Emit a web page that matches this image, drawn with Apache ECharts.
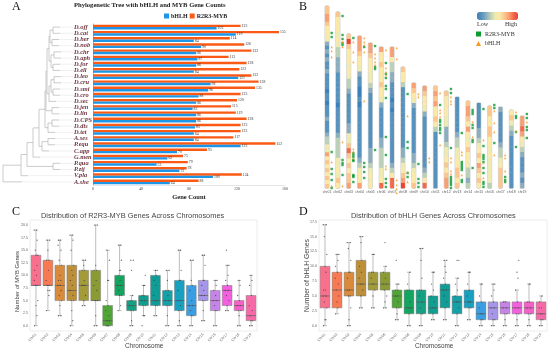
<!DOCTYPE html>
<html><head><meta charset="utf-8">
<style>html,body{margin:0;padding:0;background:#fff}#c{width:550px;height:350px}</style>
<script src="https://cdn.jsdelivr.net/npm/echarts@6/dist/echarts.min.js"></script>
</head><body><div id="c"></div>
<script>
// ---------- Panel A ----------
const species = ['D.off','D.cat','D.her','D.nob','D.chr','D.aph','D.for','D.ell','D.leo','D.cru','D.smi','D.cro','D.sec','D.jen','D.lin','D.CPS','D.dis','D.tet','A.ses','P.equ','C.app','G.men','P.qua','P.zij','V.pla','A.she'];
const mybCounts  = [123,155,114,126,132,113,128,122,132,138,135,123,120,115,119,128,123,123,117,152,95,75,79,78,124,88];
const bhlhCounts = [103,119,84,90,86,87,86,84,121,98,96,88,86,83,86,86,85,84,84,123,70,62,53,72,100,64];
const geneTicks = [0,40,80,120,160];
// tree nodes: [branch position, first row, last row, parent branch position]
const treeNodes = [[53,0,1,50],[52,2,3,50],[50,.5,2.5,49],[54,4,5,51],[53,6,7,51],[51,4.5,6.5,49],[49,1.5,5.5,47],[54,8,9,51],[53,10,11,51],[51,8.5,10.5,49],[49,9.5,12,47],[47,3.5,10.75,46],[52,13,14,46],[46,7.125,13.5,45],[52,15,16,48],[48,15.5,17,45],[45,10.3,16.25,39],[48,18,19,42],[42,18.5,20,39],[39,13.3,19.25,33],[33,16.3,21,27],[53,22,23,27],[27,18.65,22.5,21],[21,20.6,24,3],[3,22.3,25,3]];
const treeTipStart = [53,53,52,52,54,54,53,53,54,54,53,53,49,52,52,52,52,48,48,48,42,33,53,53,21,3];

// ---------- Panel B ----------
const chrNames = ['chr01','chr02','chr03','chr04','chr05','chr06','chr07','chr08','chr09','chr10','chr11','chr12','chr13','chr14','chr15','chr16','chr17','chr18','chr19'];
const chrStart = [6,12,34,36,43,47,47,67,83,86,86,91,97,101,103,106,107,110,116];
const chrEnd = 188;
const chr01 = [6,6,7,7,6,5,5,5,4,2,1,2,1,2,1,1,2,1,1,1,1,0,1,1,0,1,1,1,2,1,1,1,2,3,3,4,4,7,5,6,5,6,5,6,5,6];
const chr02 = [6,5,5,5,4,5,4,3,3,2,2,2,1,1,1,1,1,1,0,1,1,1,1,1,2,3,3,3,3,4,4,5,4,6,5];
const chr03 = [6,9,6,5,5,5,4,5,4,3,3,2,1,1,1,1,1,1,2,2,4,4,6,8,6,5,6,5,6,6,7];
const chr04 = [7,7,7,6,5,5,4,2,1,1,0,0,1,0,1,1,1,1,1,1,1,1,1,1,2,3,4,5,5,7];
const chr05 = [7,7,6,5,5,5,4,4,3,2,1,1,1,1,1,1,1,1,1,1,1,2,2,2,3,4,5,4,5];
const chr06 = [7,5,5,6,5,5,5,6,5,5,4,2,1,1,1,1,1,1,2,2,3,3,3,3,4,4,5,8];
const chr07 = [7,7,5,3,3,2,2,1,1,1,0,1,0,1,1,1,1,1,1,1,1,1,1,2,3,5,8,8];
const chr08 = [6,5,5,3,1,1,1,1,1,1,1,1,1,1,1,1,2,2,3,4,5,6,7,9];
const chr09 = [7,6,5,4,2,1,1,1,1,1,1,1,1,1,2,2,3,4,5,5,6];
const chr10 = [7,6,5,5,4,2,1,1,1,1,1,1,1,1,1,1,2,3,5,8];
const chr11 = [6,7,6,7,5,5,6,5,3,1,1,1,1,1,1,1,1,1,1,1];
const chr12 = [6,5,5,5,5,4,4,2,2,2,3,4,4,5,6,5,6,7,7];
const chr13 = [1,1,1,1,1,1,1,2,3,3,4,4,5,5,6,6,5,6];
const chr14 = [6,7,7,6,5,7,5,4,5,6,5,5,4,3,3,2,3];
const chr15 = [1,1,1,1,1,2,2,3,4,5,6,5,7,6,5,6,5];
const chr16 = [6,6,5,5,6,6,5,5,4,5,4,4,4,4,4,3];
const chr17 = [2,1,1,1,1,1,1,2,3,3,4,5,6,6,6,6];
const chr18 = [5,6,4,3,2,1,1,1,1,1,1,1,1,1,1];
const chr19 = [7,7,8,7,5,4,3,2,1,1,1,2,1,2];
const chrBins = [chr01,chr02,chr03,chr04,chr05,chr06,chr07,chr08,chr09,chr10,chr11,chr12,chr13,chr14,chr15,chr16,chr17,chr18,chr19];
const mybSites = [[33,37,152,169,174,180,188],[16,35,39,43,45,160,163,165,175],[38,153,155,157,160,161,175,176,177,182],[47,163,167,172,178],[46,67,69,150],[63,74,78,86,89,98,137,155,179,183,187],[],[94,142,148,173,177],[164,179,183,187],[],[105,120,122,125,128,130,133],[89,93,148,177,179,181,183,185,188],[133,162,164,166,168,170,180,182],[110,112,114,125,128,140,142,168],[109,146,155,157,159,162,168,173,182,184,187],[105,108,143],[177,180,182],[116,118,132,147],[114,118,127,130,138]];
const bhlhSites = [[47,51,57,162,186],[42,47,142,186],[42,52,62,149,152,158],[38,42,45,52,101],[54,58,62,65],[50,68,72,75,166,169],[48,59,180,185,189,193],[116,172,182],[94,97],[158,162],[93,110,113,117,145],[97,101,104,158,162,171,174],[152,155,175],[122,137],[140,163,178],[111,123,132,155],[155,158,171],[112,131],[122]];

// ---------- Panels C and D ----------
const chromLabels = ['Chr01','Chr02','Chr03','Chr04','Chr05','Chr06','Chr07','Chr08','Chr09','Chr10','Chr11','Chr12','Chr13','Chr14','Chr15','Chr16','Chr17','Chr18','Chr19'];
const boxColors = ['#f8708c','#f77a52','#d98a3a','#bd8f38','#a39a3a','#8a9b33','#4fa535','#12a55f','#14a183','#0f9e8f','#109d98','#13a0a6','#18a0c0','#3a9fe2','#a596ea','#c684e8','#f45fe0','#f560c8','#f66aa8'];
const mybLow  = [0,3,2,0,4,0,0,3,0,2,2,0,0,0,1,0,3,0,0];
const mybQ1   = [8,8,5,5,5,5,0,6,3,4,4,4,3,2,5,3,4,3,1];
const mybMed  = [8,8,8,7,8,5,1,8,4,5,5,5,5,4,6,5,7,4,2];
const mybQ3   = [14,13,12,12,11,11,4,10,5,6,10,7,9,8,9,7,8,5,6];
const mybHigh = [19,17,17,18,13,20,15,16,6,8,11,11,15,13,14,9,12,9,10];
const bhlhLow  = [0,2,0,3,3,3,1,0,0,1,1,0,1,0,0,0,0,0,0];
const bhlhQ1   = [3,3,5,5,6,6,3,2,2,2,3,2,3,1,1,2,2,2,1];
const bhlhMed  = [5,6,6,7,7,7,5,3,4,3,6,4,4,2,3,3,3,3,2];
const bhlhQ3   = [10,9,9,11,9,9,6,6,6,5,7,5,6,4,4,4,4,4,4];
const bhlhHigh = [17,12,14,15,12,10,7,9,13,9,11,8,9,7,7,4,6,7,5];
const mybPoints = [[0,2,4,5,8,8,9,10,11,12,14,14,15,17,19,19],[3,6,7,7,8,8,9,11,13,13,15,17,17],[2,2,4,5,6,7,8,8,9,9,10,12,13,15,16,17,17],[0,1,3,5,5,6,7,8,9,10,11,12,15,17,18,18],[4,4,5,6,8,8,8,9,11,11,12,13,13],[0,0,2,5,5,7,8,9,11,11,12,20,20],[0,0,0,1,1,2,3,4,5,9,9,13,15],[3,4,6,6,7,8,8,9,10,11,11,13,16,16],[0,0,1,3,3,4,4,5,5,6,11,13,13],[0,2,2,4,4,5,5,6,6,8,8,10],[2,2,4,4,5,5,6,8,9,10,11,11],[0,0,2,4,4,5,5,6,7,7,9,11,11],[0,0,1,3,3,4,5,5,7,9,9,11,15,15],[0,0,2,2,3,4,4,5,7,8,9,13,13],[1,1,3,5,5,6,6,7,8,9,9,12,14,14],[0,0,3,3,4,5,5,6,7,8,9,9],[3,3,4,5,6,7,7,8,9,10,12,12,15],[0,0,2,3,3,4,4,5,6,8,9],[0,0,1,1,2,3,4,6,8,9,10]];
const bhlhPoints = [[0,1,1,3,4,5,5,6,6,9,10,12,15,17,17],[2,3,4,5,6,7,8,9,10,11,12,12],[0,0,1,3,5,5,6,6,8,9,9,11,13,14,14],[3,3,5,6,7,7,8,9,10,11,14,15,15],[3,3,5,6,7,7,8,9,9,12,12],[3,3,4,5,6,7,7,8,9,10,14],[1,1,2,3,3,4,5,5,6,6,7,7,11],[0,0,2,3,3,4,6,6,7,9],[0,0,2,2,3,4,5,6,6,8,11,13,13],[1,1,2,3,3,4,5,6,7,9,9],[1,1,3,4,5,6,6,7,8,9,10,11,11],[0,0,2,3,4,4,5,6,7,8,11,11],[1,1,3,3,4,4,5,6,7,9,9],[0,0,1,1,2,2,3,4,5,7,7],[0,0,1,1,2,3,3,4,5,6,7,7],[0,0,1,2,2,3,3,4,4],[0,0,1,2,2,3,3,4,6,8,9,11],[0,0,1,2,2,3,3,4,4,7,7],[0,0,1,1,2,2,3,3,4,5]];
const mybTicks = [0,2.5,5,7.5,10,12.5,15,17.5,20];
const bhlhTicks = [0,2.5,5,7.5,10,12.5,15,17.5];
const dotSpread = [-0.12,0.08,0,0.15,-0.06,0.1,-0.15,0.04];

const SERIF = '"Liberation Serif","DejaVu Serif",serif';
const SANS = '"Liberation Sans",Arial,sans-serif';

// --- derived series data ---
const treeInner = [], treeTips = [];
treeNodes.forEach(([x,a,b,px]) => {
  treeInner.push([x,a],[x,b],['-','-'],[px,(a+b)/2],[x,(a+b)/2],['-','-']);
});
treeTipStart.forEach((x,r) => {
  const dark = r === 25 ? 19 : 7;
  treeInner.push([x,r],[x+dark,r],['-','-']);
  treeTips.push([x+dark,r],[74,r],['-','-']);
});
const binData = [];
chrBins.forEach((bins,c) => {
  const h = (chrEnd - chrStart[c]) / bins.length;
  bins.forEach((v,i) => binData.push([c+1, chrStart[c]+i*h, chrStart[c]+(i+1)*h, v]));
});
const outlineData = chrStart.map((s,c) => [c+1, s, chrEnd]);
const sites = (list) => list.flatMap((ys,c) => ys.map(y => [c+1.43, y]));
const boxData = (lo,q1,md,q3,hi) => lo.map((_,i) => [i,lo[i],q1[i],md[i],q3[i],hi[i]]);
const dotData = (pts) => pts.flatMap((vals,c) => vals.map((v,i) => [c+dotSpread[i%dotSpread.length], v]));

const renderBox = (params, api) => {
  const i = api.value(0);
  const w = api.size([1,0])[0]*0.82;
  const xc = api.coord([i,0])[0];
  const yOf = (d) => api.coord([i,api.value(d)])[1];
  const wh = {stroke:'#bdbdbd',lineWidth:1};
  return {type:'group',children:[
    {type:'line',shape:{x1:xc,y1:yOf(1),x2:xc,y2:yOf(5)},style:wh},
    {type:'line',shape:{x1:xc-2,y1:yOf(1),x2:xc+2,y2:yOf(1)},style:wh},
    {type:'line',shape:{x1:xc-2,y1:yOf(5),x2:xc+2,y2:yOf(5)},style:wh},
    {type:'rect',shape:{x:xc-w/2,y:yOf(4),width:w,height:yOf(2)-yOf(4)},style:{fill:boxColors[i],stroke:'#7d7d7d',lineWidth:0.5}},
    {type:'line',shape:{x1:xc-w/2,y1:yOf(3),x2:xc+w/2,y2:yOf(3)},style:{stroke:'#555',lineWidth:0.6}}
  ]};
};
const boxXAxis = (grid) => ({gridIndex:grid,type:'category',data:chromLabels,axisLine:{show:false},axisTick:{show:false},
  axisLabel:{interval:0,rotate:45,fontSize:3.6,color:'#666',fontFamily:SANS,margin:3}});
const hiddenX = (grid) => ({gridIndex:grid,type:'value',min:-0.5,max:18.5,show:false});
const boxYAxis = (grid,min,max,ticks,name,size,shift,gap) => ({gridIndex:grid,type:'value',min,max,name,nameLocation:'middle',nameGap:gap,nameMoveOverlap:false,
  nameTextStyle:{fontSize:size,color:'#444',fontFamily:SANS,padding:[0,shift,0,0]},axisLine:{show:false},axisTick:{show:false},splitLine:{show:false},
  axisLabel:{customValues:ticks,formatter:(v)=>v.toFixed(1),fontSize:3.6,color:'#666',fontFamily:SANS,margin:2}});

const option = {
  animation:false,
  backgroundColor:'#fff',
  title:[
    {text:'A',left:12,top:1,padding:0,textStyle:{fontFamily:SERIF,fontSize:12,fontWeight:'normal',color:'#111'}},
    {text:'B',left:299,top:1,padding:0,textStyle:{fontFamily:SERIF,fontSize:12,fontWeight:'normal',color:'#111'}},
    {text:'C',left:12,top:206,padding:0,textStyle:{fontFamily:SERIF,fontSize:12,fontWeight:'normal',color:'#111'}},
    {text:'D',left:299,top:206,padding:0,textStyle:{fontFamily:SERIF,fontSize:12,fontWeight:'normal',color:'#111'}},
    {text:'Phylogenetic Tree with bHLH and MYB Gene Counts',left:74,top:2,padding:0,textStyle:{fontFamily:SERIF,fontSize:6.6,fontWeight:'bold',color:'#222'}},
    {text:'Distribution of R2R3-MYB Genes Across Chromosomes',left:41,top:212,padding:0,textStyle:{fontFamily:SANS,fontSize:7.4,fontWeight:'normal',color:'#444'}},
    {text:'Distribution of bHLH Genes Across Chromosomes',left:351,top:212,padding:0,textStyle:{fontFamily:SANS,fontSize:7.4,fontWeight:'normal',color:'#444'}},
    {text:'Low',left:477,top:21,padding:0,textStyle:{fontFamily:SERIF,fontSize:6,fontWeight:'normal',color:'#333'}},
    {text:'High',left:505,top:21,padding:0,textStyle:{fontFamily:SERIF,fontSize:6,fontWeight:'normal',color:'#333'}}
  ],
  legend:[
    {data:[{name:'bHLH',icon:'rect',itemStyle:{color:'#1e96e8'}},{name:'R2R3-MYB',icon:'rect',itemStyle:{color:'#fb5a14'}}],left:164,top:13,itemWidth:5,itemHeight:5,itemGap:2,selectedMode:false,padding:0,
      textStyle:{fontFamily:SERIF,fontSize:6,fontWeight:'bold',color:'#222',padding:[0,0,0,-3]}},
    {orient:'vertical',data:[{name:'R2R3-MYB',icon:'rect',itemStyle:{color:'#0d9b2d'}},{name:'bHLH',icon:'triangle',itemStyle:{color:'#f79a1e'}}],left:476,top:31,itemWidth:5,itemHeight:5,itemGap:3.5,selectedMode:false,padding:0,
      textStyle:{fontFamily:SERIF,fontSize:6,color:'#333',padding:[0,0,0,-1]}}
  ],
  visualMap:{type:'continuous',seriesIndex:4,dimension:3,min:0,max:9,show:true,orient:'horizontal',left:477,top:12,itemWidth:8,itemHeight:41,padding:0,calculable:false,hoverLink:false,text:null,
    inRange:{color:['#3a80bb','#5792be','#8aaec0','#bcd0b8','#eeeab0','#fbe9a8','#fac78e','#f89f74','#f4694c','#ef4030']}},
  grid:[
    {left:93,top:24,width:192,height:161},
    {left:0,top:24,width:74,height:161},
    {left:321.6,top:0,width:206,height:189},
    {left:30,top:220,width:227,height:111,show:true,borderColor:'#ececec',borderWidth:1,backgroundColor:'#fff'},
    {left:319,top:220,width:228,height:111,show:true,borderColor:'#ececec',borderWidth:1,backgroundColor:'#fff'}
  ],
  xAxis:[
    {gridIndex:0,type:'value',min:0,max:160,interval:40,name:'Gene Count',nameLocation:'middle',nameGap:9,nameMoveOverlap:false,
      nameTextStyle:{fontFamily:SERIF,fontSize:6.5,fontWeight:'bold',color:'#222'},
      axisLine:{show:true,lineStyle:{color:'#ccc',width:0.5}},axisTick:{show:false},splitLine:{show:false},
      axisLabel:{customValues:geneTicks,fontSize:4,color:'#444',fontFamily:SERIF,margin:2}},
    {gridIndex:1,type:'value',min:0,max:74,show:false},
    {gridIndex:2,type:'value',min:0.5,max:19.5,axisLine:{show:false},axisTick:{show:false},splitLine:{show:false},
      axisLabel:{customValues:chrNames.map((_,i)=>i+1),formatter:(v)=>chrNames[v-1],fontSize:3.4,color:'#555',fontFamily:SANS,margin:2}},
    boxXAxis(3),hiddenX(3),boxXAxis(4),hiddenX(4)
  ],
  yAxis:[
    {gridIndex:0,type:'category',inverse:true,data:species,axisLine:{show:true,lineStyle:{color:'#888',width:0.6}},axisTick:{show:false},
      axisLabel:{interval:0,align:'left',margin:19,fontFamily:SERIF,fontStyle:'italic',fontWeight:'bold',fontSize:6.4,color:'#6e3540'}},
    {gridIndex:1,type:'value',min:-0.5,max:25.5,inverse:true,show:false},
    {gridIndex:2,type:'value',min:0,max:189,inverse:true,show:false},
    boxYAxis(3,-1.05,21,mybTicks,'Number of MYB Genes',5.9,12,10),
    boxYAxis(4,-0.9,17.8,bhlhTicks,'Number of bHLH Genes',6.8,0,8)
  ],
  series:[
    {name:'R2R3-MYB',type:'bar',xAxisIndex:0,yAxisIndex:0,data:mybCounts,barWidth:2.4,barGap:0,itemStyle:{color:'#fb5a14'},
      label:{show:true,position:'right',distance:1,fontSize:3.8,color:'#333',fontFamily:SERIF}},
    {name:'bHLH',type:'bar',xAxisIndex:0,yAxisIndex:0,data:bhlhCounts,barWidth:2.4,barGap:0,itemStyle:{color:'#1e96e8'},
      label:{show:true,position:'right',distance:1,fontSize:3.8,color:'#333',fontFamily:SERIF}},
    {type:'line',name:'tree tips',xAxisIndex:1,yAxisIndex:1,data:treeTips,showSymbol:false,connectNulls:false,lineStyle:{color:'#e6e6e6',width:0.6},silent:true},
    {type:'line',name:'tree',xAxisIndex:1,yAxisIndex:1,data:treeInner,showSymbol:false,connectNulls:false,lineStyle:{color:'#b5b5b5',width:0.7},silent:true},
    {type:'custom',name:'density',xAxisIndex:2,yAxisIndex:2,z:3,data:binData,dimensions:['chr','from','to','level'],encode:{x:0,y:[1,2]},
      renderItem:(p,api)=>{
        const w = api.size([0.36,0])[0];
        const a = api.coord([api.value(0),api.value(1)]), b = api.coord([api.value(0),api.value(2)]);
        return {type:'rect',shape:{x:a[0]-w/2,y:a[1],width:w,height:b[1]-a[1]+0.3},style:{fill:api.visual('color')}};
      }},
    {type:'custom',name:'outline',xAxisIndex:2,yAxisIndex:2,z:2,data:outlineData,encode:{x:0,y:[1,2]},
      renderItem:(p,api)=>{
        const w = api.size([0.48,0])[0];
        const a = api.coord([api.value(0),api.value(1)]), b = api.coord([api.value(0),api.value(2)]);
        return {type:'rect',shape:{x:a[0]-w/2,y:a[1]-1,width:w,height:b[1]-a[1]+2,r:2.6},style:{fill:'#d6d6d6'}};
      }},
    {name:'R2R3-MYB',type:'scatter',xAxisIndex:2,yAxisIndex:2,z:4,data:sites(mybSites),symbol:'rect',symbolSize:2.4,clip:false,itemStyle:{color:'#0d9b2d'}},
    {name:'bHLH',type:'scatter',xAxisIndex:2,yAxisIndex:2,z:4,data:sites(bhlhSites),symbol:'triangle',symbolSize:2.4,clip:false,itemStyle:{color:'#f79a1e'}},
    {type:'custom',name:'MYB boxes',xAxisIndex:3,yAxisIndex:3,data:boxData(mybLow,mybQ1,mybMed,mybQ3,mybHigh),encode:{x:0,y:[1,2,3,4,5]},renderItem:renderBox},
    {type:'scatter',name:'MYB counts',xAxisIndex:4,yAxisIndex:3,z:5,data:dotData(mybPoints),symbolSize:1.3,itemStyle:{color:'#444'}},
    {type:'custom',name:'bHLH boxes',xAxisIndex:5,yAxisIndex:4,data:boxData(bhlhLow,bhlhQ1,bhlhMed,bhlhQ3,bhlhHigh),encode:{x:0,y:[1,2,3,4,5]},renderItem:renderBox},
    {type:'scatter',name:'bHLH counts',xAxisIndex:6,yAxisIndex:4,z:5,data:dotData(bhlhPoints),symbolSize:1.3,itemStyle:{color:'#444'}}
  ],
  graphic:[
    {type:'text',left:125,top:343,style:{text:'Chromosome',fontFamily:SANS,fontSize:6.4,fill:'#444'}},
    {type:'text',left:415,top:343,style:{text:'Chromosome',fontFamily:SANS,fontSize:6.4,fill:'#444'}}
  ]
};
echarts.init(document.getElementById('c'),null,{renderer:'canvas'}).setOption(option);
</script></body></html>
